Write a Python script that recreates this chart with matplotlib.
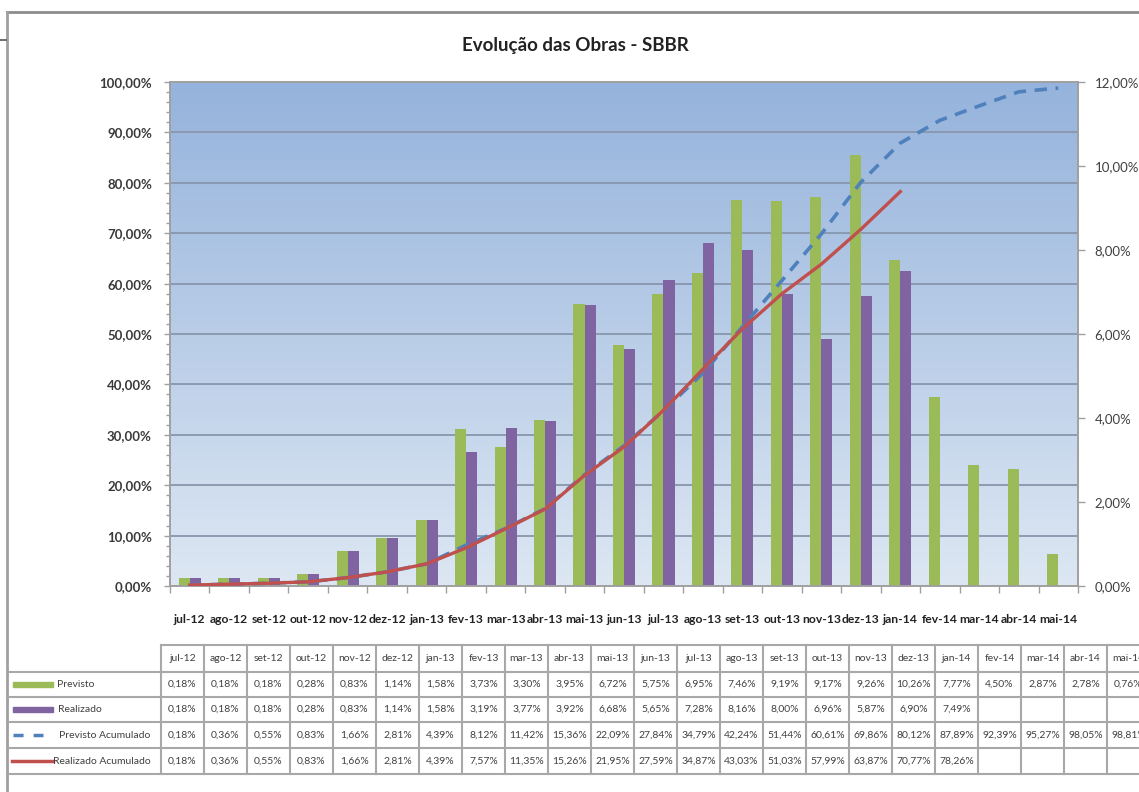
import numpy as np
import matplotlib.pyplot as plt
from matplotlib.lines import Line2D
from matplotlib.patches import Rectangle
from matplotlib.colors import LinearSegmentedColormap
from matplotlib.ticker import FuncFormatter, MultipleLocator

plt.rcParams['font.family'] = ['Lato', 'DejaVu Sans']

titulo = "Evolução das Obras - SBBR"
meses = ["jul-12", "ago-12", "set-12", "out-12", "nov-12", "dez-12", "jan-13",
         "fev-13", "mar-13", "abr-13", "mai-13", "jun-13", "jul-13", "ago-13",
         "set-13", "out-13", "nov-13", "dez-13", "jan-14", "fev-14", "mar-14",
         "abr-14", "mai-14"]
previsto = [0.18, 0.18, 0.18, 0.28, 0.83, 1.14, 1.58, 3.73, 3.30, 3.95, 6.72, 5.75,
            6.95, 7.46, 9.19, 9.17, 9.26, 10.26, 7.77, 4.50, 2.87, 2.78, 0.76]
realizado = [0.18, 0.18, 0.18, 0.28, 0.83, 1.14, 1.58, 3.19, 3.77, 3.92, 6.68, 5.65,
             7.28, 8.16, 8.00, 6.96, 5.87, 6.90, 7.49]
previsto_acum = [0.18, 0.36, 0.55, 0.83, 1.66, 2.81, 4.39, 8.12, 11.42, 15.36, 22.09,
                 27.84, 34.79, 42.24, 51.44, 60.61, 69.86, 80.12, 87.89, 92.39, 95.27,
                 98.05, 98.81]
realizado_acum = [0.18, 0.36, 0.55, 0.83, 1.66, 2.81, 4.39, 7.57, 11.35, 15.26, 21.95,
                  27.59, 34.87, 43.03, 51.03, 57.99, 63.87, 70.77, 78.26]
nomes_series = ["Previsto", "Realizado", "Previsto Acumulado", "Realizado Acumulado"]

VERDE, ROXO, AZUL, VERMELHO = '#9bbb59', '#8064a2', '#4f81bd', '#c0504d'
CINZA = '#a0a0a0'

W, H = 1139, 792
fig = plt.figure(figsize=(W / 100, H / 100), dpi=100)


def fx(x):
    return x / W


def fy(y):
    return 1 - y / H


def pct(v, casas=2):
    return f"{v:.{casas}f}%".replace('.', ',')


# grafico principal: barras no eixo da direita, curvas no da esquerda
ax = fig.add_axes([fx(170), fy(586), 908 / W, 504 / H])
n = len(meses)
xs = np.arange(n)
larg = 0.28
ax.set_xlim(-0.5, n - 0.5)
ax.set_ylim(0, 12)

fundo = LinearSegmentedColormap.from_list('fundo', ['#dde7f3', '#95b3dc'])
ax.imshow(np.linspace(0, 1, 256).reshape(-1, 1), extent=[-0.5, n - 0.5, 0, 12],
          aspect='auto', origin='lower', cmap=fundo, zorder=0)
for g in np.arange(1.2, 12, 1.2):
    ax.axhline(g, color='#8796ad', lw=1.3, zorder=1)

ax.bar(xs - larg / 2, previsto, larg, color=VERDE, zorder=2)
ax.bar(np.arange(len(realizado)) + larg / 2, realizado, larg, color=ROXO, zorder=2)

ax2 = ax.twinx()
ax2.set_ylim(0, 100)
ax2.plot(xs, previsto_acum, color=AZUL, lw=2.6, dashes=(3.4, 2.4), zorder=3)
ax2.plot(np.arange(len(realizado_acum)), realizado_acum, color=VERMELHO, lw=2.4,
         zorder=4)

ax.yaxis.tick_right()
ax2.yaxis.tick_left()
ax.yaxis.set_major_locator(MultipleLocator(2))
ax.yaxis.set_major_formatter(FuncFormatter(lambda v, p: pct(v)))
ax2.yaxis.set_major_locator(MultipleLocator(10))
ax2.yaxis.set_minor_locator(MultipleLocator(2))
ax2.yaxis.set_major_formatter(FuncFormatter(lambda v, p: pct(v)))
ax.tick_params(axis='y', length=5, width=1, color=CINZA, pad=7,
               labelsize=9.5, labelcolor='#404040')
ax2.tick_params(axis='y', which='major', length=4, width=1, color=CINZA, pad=9,
                labelsize=9.5, labelcolor='#3a3a3a')
for t in ax2.get_yticklabels():
    t.set_fontweight('bold')
ax2.tick_params(axis='y', which='minor', length=3, width=1, color=CINZA)

ax.set_xticks(xs)
ax.set_xticklabels(meses)
ax.set_xticks(np.arange(-0.5, n), minor=True)
ax.tick_params(axis='x', which='major', length=0, pad=20, labelsize=8.7,
               labelcolor='#222222')
ax.tick_params(axis='x', which='minor', length=5, width=1, color=CINZA)
for t in ax.get_xticklabels():
    t.set_fontweight('bold')

for a in (ax, ax2):
    for s in a.spines.values():
        s.set_color(CINZA)
        s.set_linewidth(1.2)

fig.text(fx(575), fy(45), titulo, ha='center', va='center', fontsize=13.5,
         fontweight='bold', color='#222222')

# moldura do slide
fig.add_artist(Line2D([fx(7), fx(W)], [fy(12), fy(12)], color='#8c8c8c', lw=2))
fig.add_artist(Line2D([fx(7), fx(7)], [fy(12), fy(H)], color='#a0a0a0', lw=2))
fig.add_artist(Line2D([fx(0), fx(6)], [fy(40), fy(40)], color='#555555', lw=1.2))

# tabela de dados
col_x = [161 + 43 * i for i in range(n + 1)]
lin_y = [645, 672, 697, 722, 748, 774]
lcor = '#a8a8a8'
fig.add_artist(Line2D([fx(col_x[0]), fx(W)], [fy(lin_y[0])] * 2, color=lcor, lw=1.5))
for yy in lin_y[1:]:
    fig.add_artist(Line2D([fx(7), fx(W)], [fy(yy)] * 2, color=lcor, lw=1.5))
for xx in col_x:
    if xx <= W:
        fig.add_artist(Line2D([fx(xx)] * 2, [fy(lin_y[0]), fy(lin_y[-1])],
                              color=lcor, lw=1.5))

tam = 7.5
for i, m in enumerate(meses):
    cx = (col_x[i] + col_x[i + 1]) / 2
    fig.text(fx(cx), fy((lin_y[0] + lin_y[1]) / 2), m, ha='center', va='center',
             fontsize=tam, color='#404040')

series = [previsto, realizado, previsto_acum, realizado_acum]
for r, serie in enumerate(series):
    cy = (lin_y[r + 1] + lin_y[r + 2]) / 2
    for i, v in enumerate(serie):
        cx = (col_x[i] + col_x[i + 1]) / 2
        fig.text(fx(cx), fy(cy), pct(v), ha='center', va='center', fontsize=tam,
                 color='#404040')

# legenda na primeira coluna
cys = [(lin_y[r + 1] + lin_y[r + 2]) / 2 for r in range(4)]
fig.add_artist(Rectangle((fx(13), fy(cys[0] + 2.5)), 40 / W, 5 / H, color=VERDE,
                         transform=fig.transFigure))
fig.add_artist(Rectangle((fx(13), fy(cys[1] + 2.5)), 40 / W, 5 / H, color=ROXO,
                         transform=fig.transFigure))
fig.add_artist(Line2D([fx(13), fx(43)], [fy(cys[2])] * 2, color=AZUL, lw=2.5,
                      dashes=(2.9, 2.9)))
fig.add_artist(Line2D([fx(12), fx(53)], [fy(cys[3])] * 2, color=VERMELHO, lw=2.5))
rot_x = [57, 58, 59, 53]
for r, nome in enumerate(nomes_series):
    fig.text(fx(rot_x[r]), fy(cys[r]), nome, ha='left', va='center', fontsize=tam,
             color='#404040')

fig.savefig("out.png", dpi=100)
